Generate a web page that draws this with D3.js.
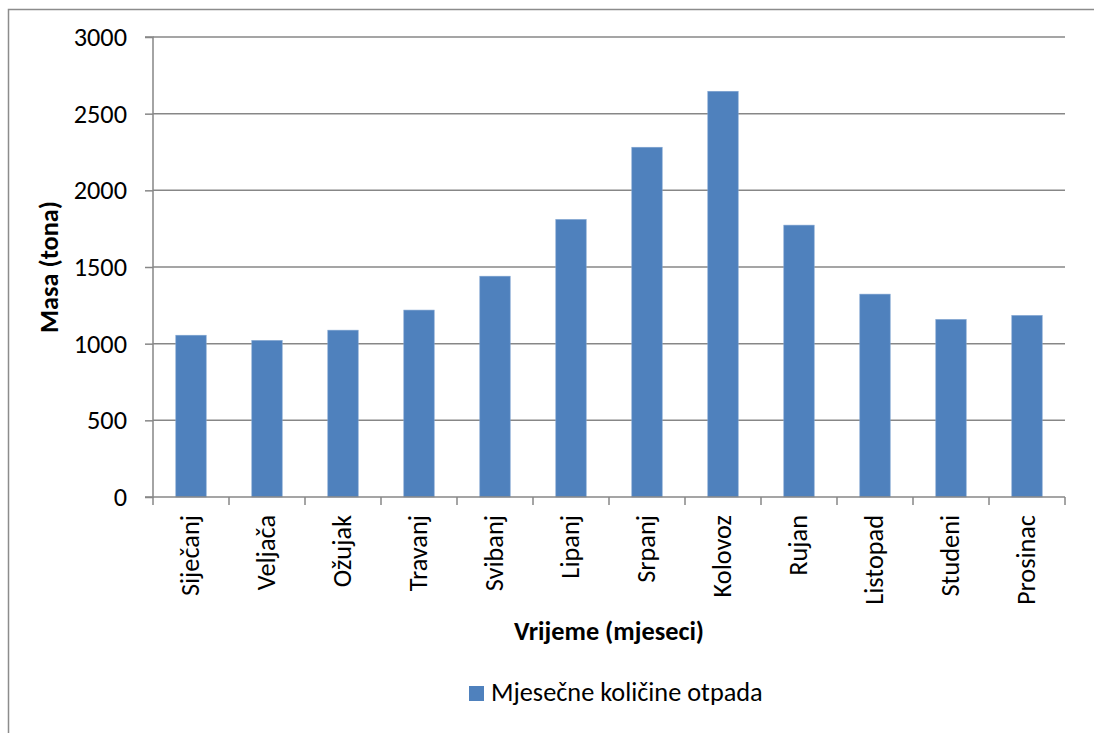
<!DOCTYPE html>
<html><head><meta charset="utf-8">
<script src="https://cdn.jsdelivr.net/npm/d3@7"></script>
<style>
html,body{margin:0;padding:0;background:#fff;}
svg{display:block;}
text{font-family:Carlito,Calibri,Lato,sans-serif;fill:#000;}
</style></head>
<body>
<script>
const categories = ["Siječanj","Veljača","Ožujak","Travanj","Svibanj","Lipanj","Srpanj","Kolovoz","Rujan","Listopad","Studeni","Prosinac"];
const values = [1055,1021,1088,1219,1440,1810,2281,2646,1773,1323,1158,1184];
const yTicks = [0,500,1000,1500,2000,2500,3000];
const seriesName = "Mjesečne količine otpada";
const yTitle = "Masa (tona)";
const xTitle = "Vrijeme (mjeseci)";

const W = 1094, H = 733;
const m = {left:153, right:1065, top:37, bottom:497};
const FS = 26.3;
const svg = d3.select("body").append("svg").attr("width",W).attr("height",H);

svg.append("rect").attr("x",8.5).attr("y",9.5).attr("width",W+20).attr("height",H+20)
  .attr("fill","#fff").attr("stroke","#8c8c8c").attr("stroke-width",1.5);

const x = d3.scaleBand().domain(categories).range([m.left,m.right]).paddingInner(0.6).paddingOuter(0.3);
const y = d3.scaleLinear().domain([0,3000]).range([m.bottom,m.top]);

// gridlines
svg.append("g").selectAll("line").data(yTicks.filter(d=>d>0)).join("line")
  .attr("x1",m.left).attr("x2",m.right).attr("y1",d=>y(d)).attr("y2",d=>y(d))
  .attr("stroke","#878787").attr("stroke-width",1.5);

// bars
svg.append("g").selectAll("rect").data(values).join("rect")
  .attr("x",(d,i)=>x(categories[i])).attr("width",x.bandwidth())
  .attr("y",d=>y(d)).attr("height",d=>y(0)-y(d))
  .attr("fill","#4F81BD").attr("stroke","#7fa3d0").attr("stroke-width",0.6);

// y axis
const yAxis = d3.axisLeft(y).tickValues(yTicks).tickSize(8).tickPadding(18).tickFormat(d3.format("d"));
const gy = svg.append("g").attr("transform",`translate(${m.left},0)`).call(yAxis);
gy.select(".domain").attr("stroke","#878787").attr("stroke-width",1.5).attr("d",`M-8,${m.top}H0V${m.bottom}H-8`);
gy.selectAll(".tick line").attr("stroke","#878787").attr("stroke-width",1.5);
gy.selectAll(".tick text").attr("font-size",FS).attr("font-family","Carlito,Calibri,Lato,sans-serif").attr("fill","#000");

// x axis
const band = (m.right-m.left)/categories.length;
const gx = svg.append("g");
gx.append("line").attr("x1",m.left).attr("x2",m.right).attr("y1",m.bottom).attr("y2",m.bottom)
  .attr("stroke","#878787").attr("stroke-width",1.5);
gx.selectAll("line.t").data(d3.range(categories.length+1)).join("line").attr("class","t")
  .attr("x1",i=>m.left+i*band).attr("x2",i=>m.left+i*band).attr("y1",m.bottom).attr("y2",m.bottom+8)
  .attr("stroke","#878787").attr("stroke-width",1.5);
gx.selectAll("text").data(categories).join("text")
  .attr("transform",d=>`translate(${x(d)+x.bandwidth()/2+8},${m.bottom+18}) rotate(-90)`)
  .attr("text-anchor","end").attr("font-size",FS).text(d=>d);

// axis titles
svg.append("text").attr("transform",`translate(58,${(m.top+m.bottom)/2}) rotate(-90)`)
  .attr("text-anchor","middle").attr("font-weight","bold").attr("font-size",FS).text(yTitle);
svg.append("text").attr("x",(m.left+m.right)/2).attr("y",640)
  .attr("text-anchor","middle").attr("font-weight","bold").attr("font-size",FS).text(xTitle);

// legend
svg.append("rect").attr("x",469).attr("y",686).attr("width",15).attr("height",15).attr("fill","#4F81BD");
svg.append("text").attr("x",491).attr("y",701).attr("font-size",FS).text(seriesName);
</script>
</body></html>
